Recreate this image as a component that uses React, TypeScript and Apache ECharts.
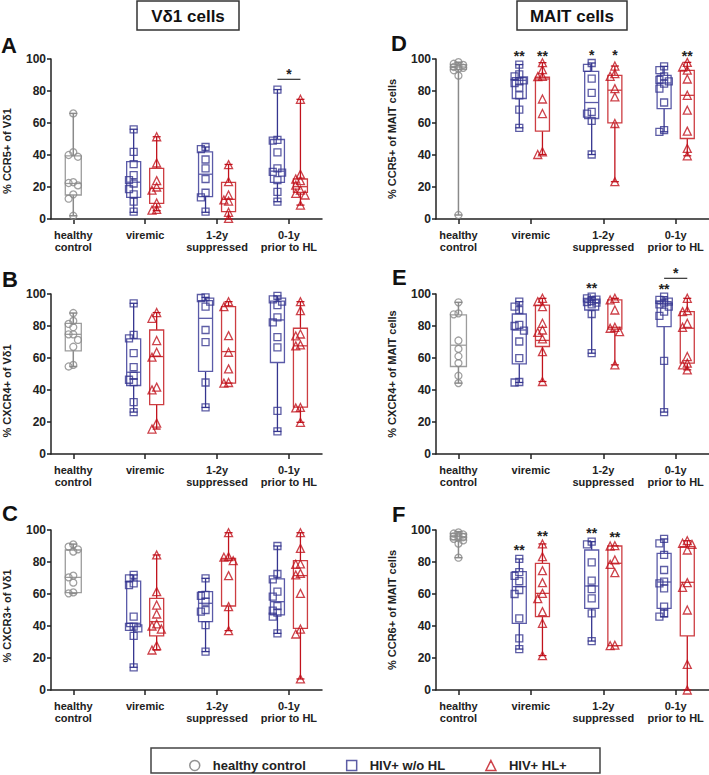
import React, { useEffect, useRef } from 'react';
import * as echarts from 'echarts';

const FONT = '"Liberation Sans", Arial, sans-serif';
const CATEGORIES = ['healthy\ncontrol', 'viremic', '1-2y\nsuppressed', '0-1y\nprior to HL'];
const GROUP_NAMES = ['healthy control', 'HIV+ w/o HL', 'HIV+ HL+'];

// ---- Panel A: % CCR5+ of Vd1 ----
const A_HC = [66, 41.8, 40, 38.9, 23, 22.5, 21, 15.4, 12.7, 2];
const A_HC_BOX = [2, 15, 22.2, 39.5, 66];
const A_NOHL = [
  [56, 42, 34.3, 27.4, 24.3, 22.2, 18.7, 15.4, 10.8, 4.6],
  [45, 43.7, 37.2, 31.6, 25, 16.4, 13.5, 4.6],
  [80.9, 49.5, 49, 41.6, 31.6, 29.5, 29, 24.3, 17, 10.8],
];
const A_NOHL_BOX = [[4.2, 13.5, 23, 35.8, 56.1], [4.2, 14, 28, 42, 45], [10.8, 22.9, 29.9, 49.7, 80.9]];
const A_HL = [
  [51.4, 35, 24, 20, 18, 10, 6, 5.5],
  [34, 23.3, 15, 11.9, 11.2, 4.2, 0.4],
  [74.8, 28, 25, 24, 21.2, 18, 16, 15, 8.7],
];
const A_HL_BOX = [[5.2, 9.8, 19.1, 31.6, 51.4], [0, 4.6, 12.3, 22.9, 34.1], [8.7, 16.6, 20.2, 25, 74.8]];

// ---- Panel B: % CXCR4+ of Vd1 ----
const B_HC = [88.1, 83.2, 81.3, 79.2, 74.8, 74.8, 71.3, 67, 55.7, 54.7];
const B_HC_BOX = [54.7, 64.4, 74.8, 81.7, 88.1];
const B_NOHL = [
  [94.2, 74.4, 72.3, 63, 54.3, 48.9, 46.4, 44.9, 32.4, 26.2],
  [97.9, 97.5, 95.2, 92.1, 77.5, 69.9, 44.7, 29.1],
  [98.8, 96.7, 95.2, 93.1, 85.4, 82.3, 73, 66.7, 27, 14.1],
];
const B_NOHL_BOX = [[26.2, 42.8, 51.1, 72, 94.2], [29.1, 51.6, 84.8, 95.8, 97.9], [14.1, 57.2, 83.8, 95.6, 98.8]];
const B_HL = [
  [88.4, 84.8, 70.9, 63.6, 60.5, 41.8, 40.1, 19.3, 15.6],
  [95.2, 92.1, 74, 63.6, 53.2, 44.7, 44.3],
  [95.2, 89.6, 75, 73.8, 68.2, 67.6, 29.1, 28.8, 19.8],
];
const B_HL_BOX = [[15.6, 30.8, 60.9, 77.5, 88.4], [44.3, 44.3, 64, 92.1, 95.2], [19.8, 29.3, 67.6, 78.6, 95.2]];

// ---- Panel C: % CXCR3+ of Vd1 ----
const C_HC = [91, 89.6, 87.9, 86.5, 71.5, 70.4, 67.1, 61, 60.4];
const C_HC_BOX = [60.4, 60.8, 70.4, 87.5, 91.2];
const C_NOHL = [
  [71.9, 69.8, 66.7, 65.6, 45.8, 39.6, 39.4, 38.5, 33.8, 14.2],
  [69.8, 59.4, 58.8, 55.2, 50, 49, 40.6, 24],
  [90, 72.5, 69.2, 61.5, 58.3, 52.5, 49.6, 48.3, 45.8, 35.4],
];
const C_NOHL_BOX = [[14.2, 39.6, 41.7, 68.1, 71.9], [24, 42.7, 54.2, 61.5, 69.8], [35.4, 46.9, 55.2, 69.4, 90]];
const C_HL = [
  [84.4, 61.5, 53.1, 47.5, 41.3, 40, 38.1, 27.7, 25],
  [98.3, 83.3, 83, 80.8, 71.5, 52.1, 37.1],
  [98.3, 88.5, 78.8, 78.6, 72.9, 71.9, 60.4, 38.1, 35, 6.9],
];
const C_HL_BOX = [[25, 33.8, 42.7, 57.3, 84.4], [37.1, 52.5, 81.3, 82.3, 98.3], [6.9, 38.5, 71.5, 80.8, 98.3]];

// ---- Panel D: % CCR5+ of MAIT cells ----
const D_HC = [98, 97, 96.3, 95.5, 95, 94.5, 94, 93, 89.6, 2.5];
const D_HC_BOX = [2.5, 93.5, 95, 96.5, 98];
const D_NOHL = [
  [96.5, 90.4, 89.2, 86.7, 86, 85, 82.1, 77.3, 68.4, 57],
  [97.5, 94.4, 87.7, 78.8, 67, 65.9, 61.3, 40.3],
  [95.4, 93, 89.2, 87, 86, 84.6, 81.5, 72.8, 55.5, 54.5],
];
const D_NOHL_BOX = [[57, 75.3, 86.7, 88.4, 96.5], [40.3, 62.8, 72.8, 92.3, 97.5], [54.5, 69, 85, 89.8, 95.4]];
const D_HL = [
  [97.7, 93.3, 89.2, 89, 75, 65.9, 42, 40.3],
  [95.6, 90.9, 89.2, 81.5, 76.3, 59.7, 23.3],
  [97.9, 95, 93, 87.5, 77.3, 68, 54.9, 44.1, 39.5],
];
const D_HL_BOX = [[40.3, 54.9, 87.5, 88.6, 97.7], [23.3, 60.1, 80.5, 89.8, 95.6], [39.5, 50.3, 77.3, 92.9, 97.9]];

// ---- Panel E: % CXCR4+ of MAIT cells ----
const E_HC = [94.8, 87.9, 87.3, 70.9, 65.7, 61.1, 56.8, 48.9, 44.3];
const E_HC_BOX = [44.3, 54.7, 68, 86.9, 94.8];
const E_NOHL = [
  [95.2, 92.1, 90, 80.7, 80, 77.1, 70.3, 59.9, 45, 44.7],
  [98.3, 97.3, 96.5, 95.6, 95, 94.6, 93.5, 87.5, 63],
  [98.3, 96.3, 95.2, 94.6, 93.5, 92.1, 89, 86.3, 58.2, 26.2],
];
const E_NOHL_BOX = [[44.7, 56.3, 77.5, 87.5, 95.2], [63, 90, 94.6, 96.3, 98.3], [26.2, 79.6, 93.8, 95.2, 98.3]];
const E_HL = [
  [97.3, 95.2, 92.1, 81.7, 77.5, 76, 71.9, 64, 45.3],
  [97.3, 96.3, 90, 79.2, 78.6, 76.5, 55.7],
  [97.3, 89.6, 89, 81.7, 79.2, 60.9, 56.8, 55.7, 52.6],
];
const E_HL_BOX = [[45.3, 67.2, 71, 93, 97.3], [55.7, 78, 79.2, 96.3, 97.3], [52.6, 56.8, 78.6, 89, 97.3]];

// ---- Panel F: % CCR6+ of MAIT cells ----
const F_HC = [98.5, 97.8, 97.2, 96.5, 96, 95.5, 95, 94.5, 93.5, 91.5, 82.7];
const F_HC_BOX = [82.7, 93.8, 95.8, 97.9, 99];
const F_NOHL = [
  [81.9, 73.7, 71.3, 68.1, 62.5, 60, 44.8, 32.3, 25.6],
  [92.7, 91, 79.8, 68.3, 63, 57.3, 47.9, 30.6],
  [94.4, 91.7, 84.4, 75, 67.7, 66.7, 63.5, 52.1, 47.9, 45.8],
];
const F_NOHL_BOX = [[25.6, 41.7, 64.6, 74, 81.9], [30.6, 51, 65, 87.5, 92.7], [45.8, 51, 67.5, 85.4, 94.4]];
const F_HL = [
  [91.3, 83.3, 74.6, 67.1, 60.4, 57.1, 49, 41.7, 21.5],
  [90.2, 90, 81.3, 78.5, 73.3, 28, 27.7],
  [93.3, 91.7, 91, 87.5, 67.1, 64.2, 50, 16, 0],
];
const F_HL_BOX = [[21.5, 45.8, 60.4, 79.2, 91.3], [27.7, 27.7, 79.2, 90, 90.2], [0, 33.8, 67.3, 89.6, 93.3]];

// significance: [category, side (-1 w/o HL, 0 between, 1 HL+), y value, number of stars]
const A_STARS = [[3, 0, 92.5, 1]];
const A_BARS = [[3, 87.3]];
const B_STARS: number[][] = [];
const C_STARS: number[][] = [];
const D_STARS = [[1, -1, 104, 2], [1, 1, 104, 2], [2, -1, 104.5, 1], [2, 1, 104.5, 1], [3, 1, 104, 2]];
const E_STARS = [[2, -1, 105.6, 2], [3, -1, 105, 2], [3, 0, 115, 1]];
const E_BARS = [[3, 109.8]];
const F_STARS = [[1, -1, 89.6, 2], [1, 1, 97.9, 2], [2, -1, 100, 2], [2, 1, 97.5, 2]];

const GRAY_PT = '#8a8a8a';
const GRAY_BOX = '#9c9c9c';
const BLUE_PT = '#35358f';
const BLUE_BOX = '#5a5aa8';
const RED_PT = '#c1121c';
const RED_BOX = '#cd3d42';
const TEXT = '#222';

const PT_COLORS = [GRAY_PT, BLUE_PT, RED_PT];
const BOX_COLORS = [GRAY_BOX, BLUE_BOX, RED_BOX];
const SYMBOLS = ['circle', 'rect', 'triangle'];
const SYMBOL_SIZES = [7, 7, 8];

const X_MIN = -0.31;
const X_MAX = 3.46;
const GROUP_OFF = 0.16;
const PLOT_W = 273;
const PLOT_H = 160;

const PANELS = [
  { letter: 'A', yName: '% CCR5+ of V\u03b41', hc: A_HC, hcBox: A_HC_BOX, nohl: A_NOHL, nohlBox: A_NOHL_BOX, hl: A_HL, hlBox: A_HL_BOX, stars: A_STARS, bars: A_BARS, left: 49, top: 59, nameShift: 12, lx: 1, ly: 45 },
  { letter: 'B', yName: '% CXCR4+ of V\u03b41', hc: B_HC, hcBox: B_HC_BOX, nohl: B_NOHL, nohlBox: B_NOHL_BOX, hl: B_HL, hlBox: B_HL_BOX, stars: B_STARS, bars: [], left: 49, top: 294, nameShift: 17, lx: 2, ly: 279 },
  { letter: 'C', yName: '% CXCR3+ of V\u03b41', hc: C_HC, hcBox: C_HC_BOX, nohl: C_NOHL, nohlBox: C_NOHL_BOX, hl: C_HL, hlBox: C_HL_BOX, stars: C_STARS, bars: [], left: 49, top: 530, nameShift: 6, lx: 2, ly: 513 },
  { letter: 'D', yName: '% CCR5+ of MAIT cells', hc: D_HC, hcBox: D_HC_BOX, nohl: D_NOHL, nohlBox: D_NOHL_BOX, hl: D_HL, hlBox: D_HL_BOX, stars: D_STARS, bars: [], left: 436, top: 59, nameShift: 0, lx: 391, ly: 43 },
  { letter: 'E', yName: '% CXCR4+ of MAIT cells', hc: E_HC, hcBox: E_HC_BOX, nohl: E_NOHL, nohlBox: E_NOHL_BOX, hl: E_HL, hlBox: E_HL_BOX, stars: E_STARS, bars: E_BARS, left: 436, top: 294, nameShift: 0, lx: 392, ly: 277 },
  { letter: 'F', yName: '% CCR6+ of MAIT cells', hc: F_HC, hcBox: F_HC_BOX, nohl: F_NOHL, nohlBox: F_NOHL_BOX, hl: F_HL, hlBox: F_HL_BOX, stars: F_STARS, bars: [], left: 436, top: 530, nameShift: 0, lx: 392, ly: 514 },
];

// simple deterministic swarm layout: returns horizontal offsets (axis units)
function swarm(values: number[]): number[] {
  const pxY = PLOT_H / 100;
  const pxX = PLOT_W / (X_MAX - X_MIN);
  const step = 4.7;
  const order = values.map((_, i) => i).sort((a, b) => values[b] - values[a]);
  const placed: { col: number; y: number }[] = [];
  const cols = [0, -1, 1];
  const offs = new Array(values.length).fill(0);
  for (const i of order) {
    const y = values[i] * pxY;
    let best = 0;
    let bestD = -1;
    for (const c of cols) {
      let d = Infinity;
      for (const p of placed) if (p.col === c) d = Math.min(d, Math.abs(p.y - y));
      if (d >= 6) { best = c; break; }
      if (d > bestD) { bestD = d; best = c; }
    }
    placed.push({ col: best, y });
    offs[i] = (best * step) / pxX;
  }
  return offs;
}

function buildOption() {
  const grid: any[] = [];
  const xAxis: any[] = [];
  const yAxis: any[] = [];
  const series: any[] = [];
  const graphic: any[] = [];

  PANELS.forEach((p, gi) => {
    grid.push({ left: p.left, top: p.top, width: PLOT_W, height: PLOT_H, containLabel: false });
    xAxis.push({
      type: 'value', gridIndex: gi, min: X_MIN, max: X_MAX,
      splitLine: { show: false },
      axisLine: { show: true, lineStyle: { color: TEXT, width: 1.5 } },
      axisTick: { show: true, customValues: [0, 1, 2, 3], length: 5, lineStyle: { color: TEXT, width: 1.5 } },
      axisLabel: {
        show: true, customValues: [0, 1, 2, 3], formatter: (v: number) => CATEGORIES[Math.round(v)] || '',
        fontSize: 11, fontWeight: 'bold', color: TEXT, fontFamily: FONT, lineHeight: 12, margin: 10,
      },
    });
    yAxis.push({
      type: 'value', gridIndex: gi, min: 0, max: 100, interval: 20,
      name: p.yName, nameLocation: 'middle', nameGap: 39, nameRotate: 90,
      nameTextStyle: { fontSize: 11, fontWeight: 'bold', color: TEXT, fontFamily: FONT, padding: [0, p.nameShift * 2, 0, 0] },
      splitLine: { show: false },
      axisLine: { show: true, onZero: false, lineStyle: { color: TEXT, width: 1.5 } },
      axisTick: { show: true, length: 4, lineStyle: { color: TEXT, width: 1.5 } },
      axisLabel: { fontSize: 12, fontWeight: 'bold', color: TEXT, fontFamily: FONT, margin: 5 },
    });

    // boxes
    const boxRows: number[][] = [];
    boxRows.push([0, ...p.hcBox, 0]);
    p.nohlBox.forEach((b, ci) => boxRows.push([ci + 1 - GROUP_OFF, ...b, 1]));
    p.hlBox.forEach((b, ci) => boxRows.push([ci + 1 + GROUP_OFF, ...b, 2]));
    series.push({
      type: 'custom', xAxisIndex: gi, yAxisIndex: gi, clip: false, silent: true,
      encode: { x: 0, y: [1, 2, 3, 4, 5] },
      data: boxRows,
      renderItem: (params: any, api: any) => {
        const x = api.value(0);
        const g = api.value(6);
        const pMin = api.coord([x, api.value(1)]);
        const pQ1 = api.coord([x, api.value(2)]);
        const pMed = api.coord([x, api.value(3)]);
        const pQ3 = api.coord([x, api.value(4)]);
        const pMax = api.coord([x, api.value(5)]);
        const cx = pMin[0];
        const hw = g === 0 ? 8 : 7;
        const cw = 4;
        const lw = g === 0 ? 1.5 : 1.3;
        const wStyle = { stroke: PT_COLORS[g], lineWidth: lw, fill: 'none' };
        const bStyle = { stroke: BOX_COLORS[g], lineWidth: 1.3, fill: 'none' };
        return {
          type: 'group',
          children: [
            { type: 'line', shape: { x1: cx, y1: pQ3[1], x2: cx, y2: pMax[1] }, style: wStyle },
            { type: 'line', shape: { x1: cx, y1: pQ1[1], x2: cx, y2: pMin[1] }, style: wStyle },
            { type: 'line', shape: { x1: cx - cw, y1: pMax[1], x2: cx + cw, y2: pMax[1] }, style: wStyle },
            { type: 'line', shape: { x1: cx - cw, y1: pMin[1], x2: cx + cw, y2: pMin[1] }, style: wStyle },
            { type: 'rect', shape: { x: cx - hw, y: pQ3[1], width: hw * 2, height: Math.max(0.5, pQ1[1] - pQ3[1]) }, style: bStyle },
            { type: 'line', shape: { x1: cx - hw, y1: pMed[1], x2: cx + hw, y2: pMed[1] }, style: bStyle },
          ],
        };
      },
    });

    // points
    const groups = [
      { g: 0, sets: [{ c: 0, vals: p.hc }] },
      { g: 1, sets: p.nohl.map((vals, ci) => ({ c: ci + 1 - GROUP_OFF, vals })) },
      { g: 2, sets: p.hl.map((vals, ci) => ({ c: ci + 1 + GROUP_OFF, vals })) },
    ];
    groups.forEach(({ g, sets }) => {
      const data: number[][] = [];
      sets.forEach(({ c, vals }) => {
        const offs = swarm(vals);
        vals.forEach((v, i) => data.push([c + offs[i], v]));
      });
      series.push({
        type: 'scatter', name: GROUP_NAMES[g], xAxisIndex: gi, yAxisIndex: gi,
        symbol: SYMBOLS[g], symbolSize: SYMBOL_SIZES[g], clip: false, silent: true,
        itemStyle: { color: 'rgba(0,0,0,0)', borderColor: PT_COLORS[g], borderWidth: 1.3 },
        data,
      });
    });

    // significance stars
    if (p.stars.length) {
      series.push({
        type: 'custom', xAxisIndex: gi, yAxisIndex: gi, clip: false, silent: true,
        data: p.stars.map((s) => [s[0] + s[1] * GROUP_OFF, s[2], s[3]]),
        renderItem: (params: any, api: any) => {
          const pt = api.coord([api.value(0), api.value(1)]);
          return {
            type: 'text', x: pt[0], y: pt[1] + 3,
            style: { text: '*'.repeat(api.value(2)), fill: TEXT, fontSize: 14, fontWeight: 'bold', fontFamily: FONT, align: 'center', verticalAlign: 'middle' },
          };
        },
      });
    }
    if (p.bars.length) {
      series.push({
        type: 'custom', xAxisIndex: gi, yAxisIndex: gi, clip: false, silent: true,
        data: p.bars.map((b) => [b[0] - GROUP_OFF, b[0] + GROUP_OFF, b[1]]),
        renderItem: (params: any, api: any) => {
          const a = api.coord([api.value(0), api.value(2)]);
          const b = api.coord([api.value(1), api.value(2)]);
          return { type: 'line', shape: { x1: a[0], y1: a[1], x2: b[0], y2: b[1] }, style: { stroke: '#333', lineWidth: 1.2 } };
        },
      });
    }

    graphic.push({
      type: 'text', x: p.lx, y: p.ly,
      style: { text: p.letter, fill: '#111', fontSize: 22, fontWeight: 'bold', fontFamily: FONT, align: 'left', verticalAlign: 'middle' },
    });
  });

  // title boxes
  graphic.push(
    { type: 'rect', shape: { x: 137, y: 1, width: 102, height: 29 }, style: { fill: 'none', stroke: '#333', lineWidth: 1.5 } },
    { type: 'text', x: 188, y: 16, style: { text: 'V\u03b41 cells', fill: '#111', fontSize: 17, fontWeight: 'bold', fontFamily: FONT, align: 'center', verticalAlign: 'middle' } },
    { type: 'rect', shape: { x: 517, y: 1, width: 110, height: 29 }, style: { fill: 'none', stroke: '#333', lineWidth: 1.5 } },
    { type: 'text', x: 572, y: 16, style: { text: 'MAIT cells', fill: '#111', fontSize: 17, fontWeight: 'bold', fontFamily: FONT, align: 'center', verticalAlign: 'middle' } },
    { type: 'rect', shape: { x: 151, y: 748, width: 449, height: 25 }, style: { fill: 'none', stroke: '#444', lineWidth: 1.5 } },
  );

  return {
    animation: false,
    backgroundColor: '#fff',
    grid, xAxis, yAxis, series, graphic,
    legend: {
      left: 184, top: 754, itemWidth: 10, itemHeight: 10, itemGap: 40, selectedMode: false,
      textStyle: { fontSize: 13, fontWeight: 'bold', color: TEXT, fontFamily: FONT, padding: [0, 0, 0, 8] },
      data: [
        { name: GROUP_NAMES[0], icon: 'circle', itemStyle: { color: 'rgba(0,0,0,0)', borderColor: '#777', borderWidth: 1.5 } },
        { name: GROUP_NAMES[1], icon: 'rect', itemStyle: { color: 'rgba(0,0,0,0)', borderColor: BLUE_PT, borderWidth: 1.5 }, textStyle: { padding: [0, 7, 0, 8] } },
        { name: GROUP_NAMES[2], icon: 'triangle', itemStyle: { color: 'rgba(0,0,0,0)', borderColor: RED_PT, borderWidth: 1.5 } },
      ],
    },
  };
}

export default function App() {
  const ref = useRef<HTMLDivElement>(null);
  useEffect(() => {
    const chart = echarts.init(ref.current!, null, { renderer: 'svg' });
    chart.setOption(buildOption() as any);
    return () => chart.dispose();
  }, []);
  return <div ref={ref} style={{ position: 'absolute', left: 0, top: 0, width: 709, height: 775, background: '#fff' }} />;
}
